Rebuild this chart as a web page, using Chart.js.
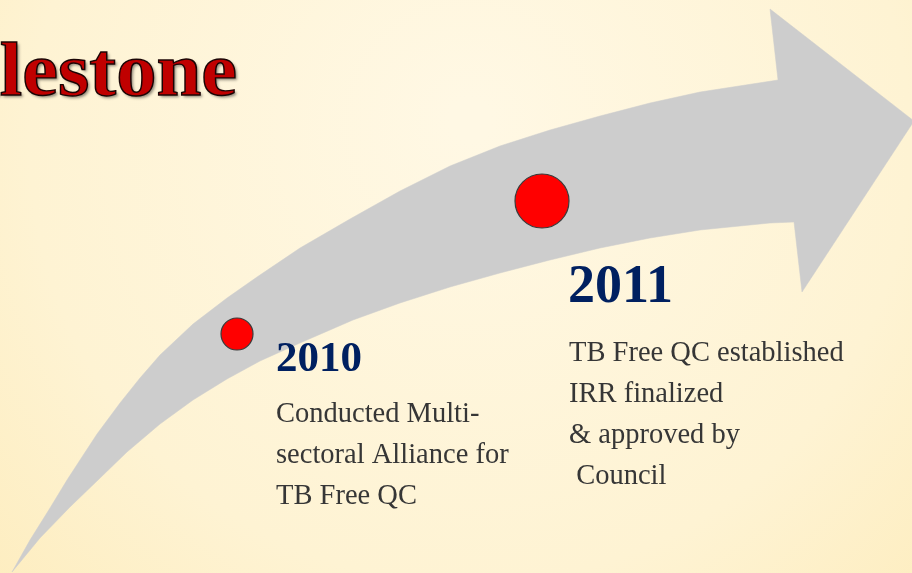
<!DOCTYPE html>
<html>
<head>
<meta charset="utf-8">
<script src="https://cdn.jsdelivr.net/npm/chart.js@4.4.1/dist/chart.umd.min.js"></script>
<style>
html,body{margin:0;padding:0;width:912px;height:573px;overflow:hidden;background:#fef3d2;}
#wrap{position:absolute;left:0;top:0;width:912px;height:573px;}
</style>
</head>
<body>
<div id="wrap"><canvas id="c" width="912" height="573"></canvas></div>
<script>
// ---- Data ----
const titleText = 'Milestone';
const years = ['2010', '2011'];
const milestoneX = [237, 542];
const milestoneY = [334, 201];
const descriptions = [
  ['Conducted Multi-', 'sectoral Alliance for', 'TB Free QC'],
  ['TB Free QC established', 'IRR finalized', '& approved by', ' Council']
];
// Arrow outline (chart units, drawn through the scales)
const arrowUpperX = [12, 30, 50, 67, 80, 97, 120, 140, 160, 193, 227, 257, 300, 350, 400, 450, 500, 550, 600, 650, 700, 778];
const arrowUpperY = [572, 540, 508, 480, 460, 434, 403, 378, 355, 324, 298, 277, 248, 219, 191, 166, 146, 130, 116, 103, 92, 80];
const arrowHeadX = [770, 914, 802];
const arrowHeadY = [9, 121, 292];
const arrowLowerX = [794, 770, 700, 650, 600, 550, 500, 450, 400, 353, 300, 260, 227, 193, 160, 127, 97, 70, 40, 12];
const arrowLowerY = [222, 223, 230, 238, 248, 260, 273, 287, 303, 320, 343, 361, 379, 400, 424, 452, 481, 507, 538, 572];

const arrowPts = [];
arrowUpperX.forEach((x, i) => arrowPts.push({x, y: arrowUpperY[i]}));
arrowHeadX.forEach((x, i) => arrowPts.push({x, y: arrowHeadY[i]}));
arrowLowerX.forEach((x, i) => arrowPts.push({x, y: arrowLowerY[i]}));

const milestonePts = milestoneX.map((x, i) => ({x, y: milestoneY[i]}));

const bgPlugin = {
  id: 'bg',
  beforeDraw(chart) {
    const ctx = chart.ctx;
    const g = ctx.createRadialGradient(470, 120, 20, 470, 160, 720);
    g.addColorStop(0, '#fff8e4');
    g.addColorStop(0.6, '#fef3d3');
    g.addColorStop(1, '#fdebb8');
    ctx.save();
    ctx.fillStyle = g;
    ctx.fillRect(0, 0, chart.width, chart.height);
    ctx.restore();
  }
};

const textPlugin = {
  id: 'texts',
  afterDatasetsDraw(chart) {
    const ctx = chart.ctx;
    const xs = chart.scales.x, ys = chart.scales.y;
    ctx.save();
    // Title (slightly widened serif)
    const tx = xs.getPixelForValue(237), ty = ys.getPixelForValue(95);
    ctx.save();
    ctx.translate(tx, ty);
    ctx.scale(1.06, 1);
    ctx.font = 'bold 76px "Liberation Serif", "DejaVu Serif", serif';
    ctx.textAlign = 'right';
    ctx.textBaseline = 'alphabetic';
    ctx.shadowColor = 'rgba(0,0,0,0.45)';
    ctx.shadowOffsetX = 2; ctx.shadowOffsetY = 2; ctx.shadowBlur = 3;
    ctx.fillStyle = '#c00000';
    ctx.fillText(titleText, 0, 0);
    ctx.shadowColor = 'transparent';
    ctx.strokeStyle = '#1a0505';
    ctx.lineWidth = 1.4;
    ctx.strokeText(titleText, 0, 0);
    ctx.restore();

    // Years and descriptions
    const yearFont = [43, 54];
    const yearDx = [39, 26];
    const yearDy = [37, 101];
    const descDx = [39, 27];
    const descDy = [88, 160];
    ctx.textAlign = 'left';
    ctx.textBaseline = 'alphabetic';
    years.forEach((yr, i) => {
      const px = xs.getPixelForValue(milestoneX[i]);
      const py = ys.getPixelForValue(milestoneY[i]);
      ctx.font = 'bold ' + yearFont[i] + 'px "Liberation Serif", serif';
      ctx.fillStyle = '#002060';
      ctx.fillText(yr, px + yearDx[i], py + yearDy[i]);
      ctx.font = '28.5px "Liberation Serif", serif';
      ctx.fillStyle = '#363636';
      descriptions[i].forEach((line, j) => {
        ctx.fillText(line, px + descDx[i], py + descDy[i] + j * 41);
      });
    });
    ctx.restore();
  }
};

new Chart(document.getElementById('c'), {
  type: 'scatter',
  data: {
    datasets: [
      {
        label: 'Milestones',
        data: milestonePts,
        pointRadius: [16, 27],
        pointHoverRadius: [16, 27],
        backgroundColor: '#ff0000',
        borderColor: '#3a3a3a',
        borderWidth: 1.2,
        order: 1
      },
      {
        label: 'Arrow',
        data: arrowPts,
        showLine: true,
        tension: 0,
        fill: 'shape',
        backgroundColor: '#cdcdcd',
        borderColor: '#cdcdcd',
        borderWidth: 0.5,
        pointRadius: 0,
        order: 2
      }
    ]
  },
  options: {
    responsive: false,
    animation: false,
    events: [],
    layout: {padding: 0, autoPadding: false},
    plugins: {legend: {display: false}, tooltip: {enabled: false}},
    scales: {
      x: {type: 'linear', min: 0, max: 912, display: false},
      y: {type: 'linear', min: 0, max: 573, reverse: true, display: false}
    }
  },
  plugins: [bgPlugin, textPlugin]
});
</script>
</body>
</html>
